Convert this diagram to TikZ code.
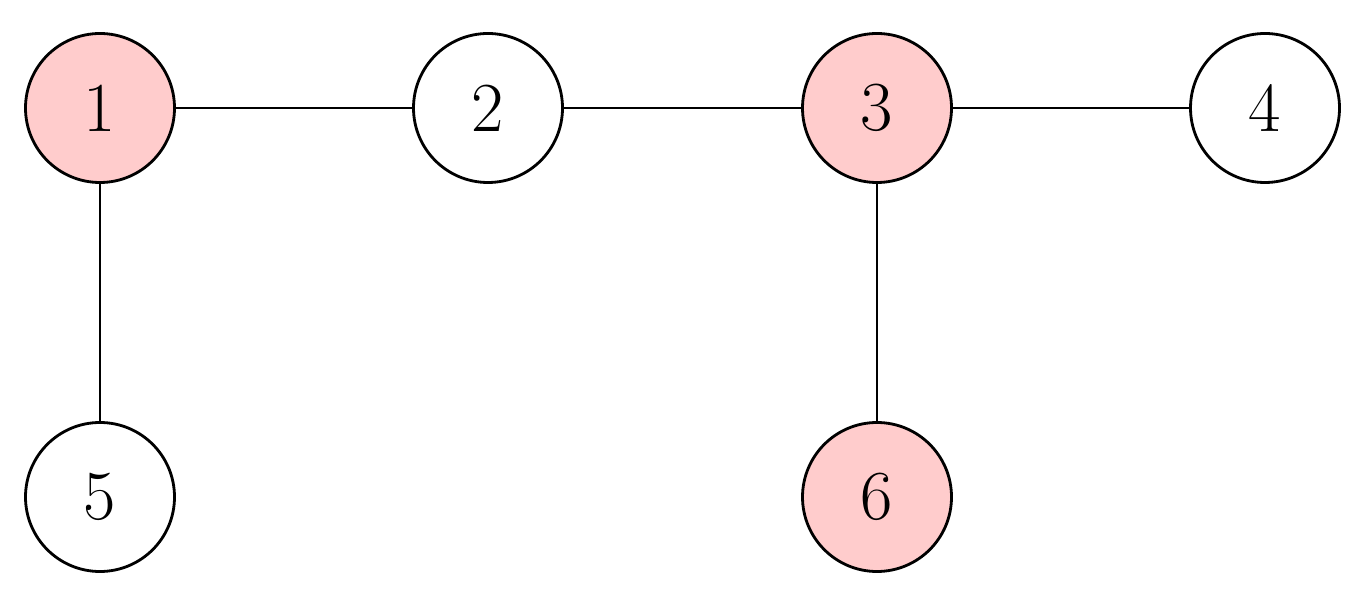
\documentclass[tikz,border=0pt]{standalone}
\begin{document}
\begin{tikzpicture}[
  v/.style={circle,draw,line width=1.6pt,minimum size=2.98cm,inner sep=0pt,font=\fontsize{40}{48}\selectfont},
  h/.style={v,fill=red!20},
  e/.style={line width=1.6pt}]
\useasboundingbox (0,0) rectangle (27.2,11.98);
\node[h] (1) at (2.0,9.82) {1};
\node[v] (2) at (9.76,9.82) {2};
\node[h] (3) at (17.54,9.82) {3};
\node[v] (4) at (25.3,9.82) {4};
\node[v] (5) at (2.0,2.04) {5};
\node[h] (6) at (17.54,2.04) {6};
\draw[e] (1)--(2); \draw[e] (2)--(3); \draw[e] (3)--(4);
\draw[e] (1)--(5); \draw[e] (3)--(6);
\end{tikzpicture}
\end{document}
